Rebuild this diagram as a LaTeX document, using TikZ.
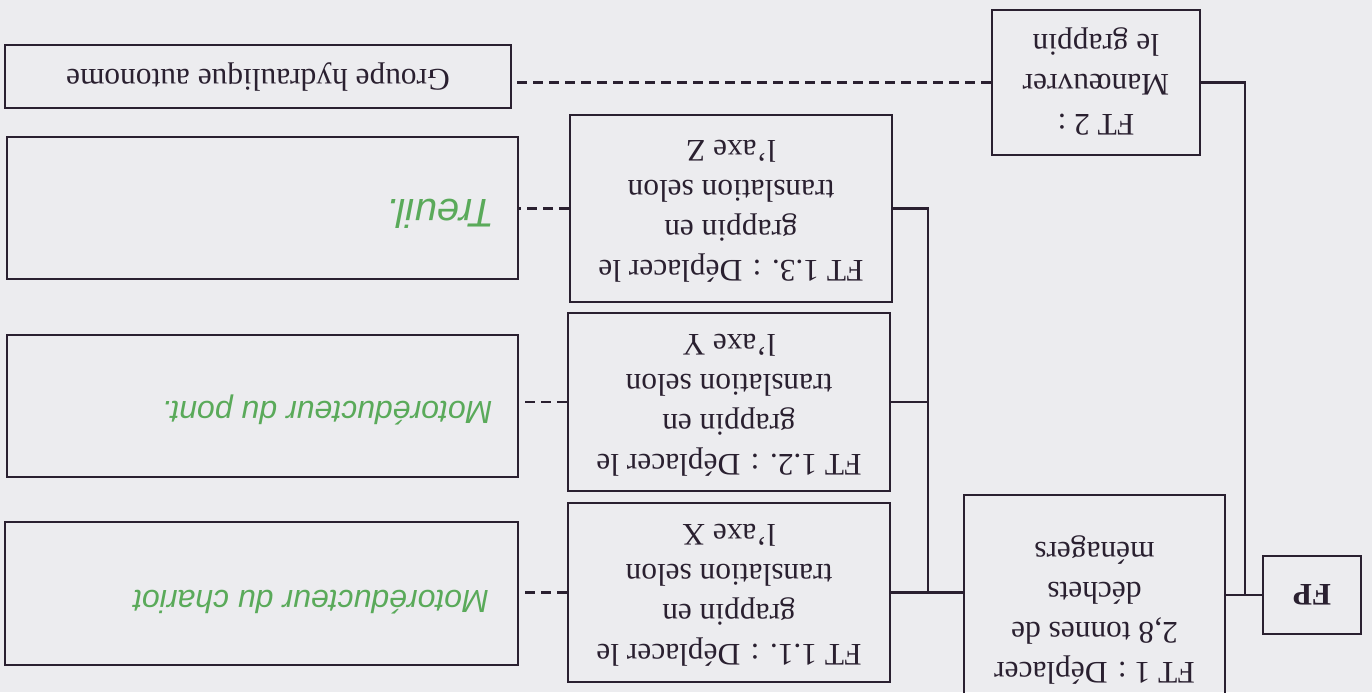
\documentclass[tikz,border=0pt]{standalone}
\usepackage{fontspec}
\setmainfont{Liberation Serif}
\newfontfamily\handfont{Liberation Sans}
\usepackage{graphicx}
\newcommand{\flipped}[1]{\rotatebox[origin=c]{180}{\begin{tabular}{@{}c@{}}#1\end{tabular}}}
\definecolor{ink}{HTML}{2A2030}
\definecolor{paper}{HTML}{ECECEF}
\definecolor{handgreen}{HTML}{5AAA5A}
\begin{document}
\begin{tikzpicture}[x=0.5pt,y=-0.5pt,
  box/.style={draw=ink,line width=1.3pt,inner sep=0pt,font=\fontsize{15.7}{20}\selectfont,text=ink},
  link/.style={draw=ink,line width=1.3pt},
  dlink/.style={link,dash pattern=on 5pt off 3pt},
  hand/.style={text=handgreen,inner sep=0pt,font=\handfont\itshape\fontsize{16}{18}\selectfont}]
\useasboundingbox (0,0) rectangle (1372,692);
\clip (0,0) rectangle (1372,692);
\fill[paper] (0,0) rectangle (1372,692);

% function boxes
\node[box,minimum width=49pt,minimum height=39pt] (FP) at (1312,595) {\rotatebox[origin=c]{180}{\bfseries FP}};
\node[box,minimum width=130.5pt,minimum height=115pt] (FT1) at (1094.5,610) {\flipped{FT 1 : Déplacer\\2,8 tonnes de\\déchets\\ménagers}};
\node[box,minimum width=104pt,minimum height=72.5pt] (FT2) at (1096,82.5) {\flipped{FT 2 :\\Manœuvrer\\le grappin}};
\node[box,minimum width=161pt,minimum height=89.5pt] (FT11) at (729,592.5) {\flipped{FT 1.1. : Déplacer le\\grappin en\\translation selon\\l’axe X}};
\node[box,minimum width=161pt,minimum height=89pt] (FT12) at (729,402) {\flipped{FT 1.2. : Déplacer le\\grappin en\\translation selon\\l’axe Y}};
\node[box,minimum width=161pt,minimum height=93.5pt] (FT13) at (731,208.5) {\flipped{FT 1.3. : Déplacer le\\grappin en\\translation selon\\l’axe Z}};

% solution boxes
\node[box,minimum width=256.5pt,minimum height=71.5pt] (L1) at (261.5,593.5) {};
\node[box,minimum width=255.5pt,minimum height=71pt] (L2) at (262.5,406) {};
\node[box,minimum width=255.5pt,minimum height=71pt] (L3) at (262.5,208) {};
\node[box,minimum width=253pt,minimum height=31.5pt] (G) at (258,76.5) {\rotatebox[origin=c]{180}{Groupe hydraulique autonome}};

% handwritten answers
\node[hand] (H1) at (311,602) {\rotatebox[origin=c]{180}{Motoréducteur du chariot}};
\node[hand] (H2) at (327,410) {\rotatebox[origin=c]{180}{Motoréducteur du pont.}};
\node[hand,font=\handfont\itshape\fontsize{20}{22}\selectfont] (H3) at (440,214) {\rotatebox[origin=c]{180}{Treuil.}};

% junctions
\coordinate (J1) at (1245,595);
\coordinate (J2) at (928,592.5);

% solid connectors
\draw[link] (FP.west) -- (FP.west -| FT1.east);
\draw[link] (FT2.east) -| (J1);
\draw[link] (FT11.east) -- (FT11.east -| FT1.west);
\draw[link] (FT13.east) -| (J2);
\draw[link] (FT12.east) -- (FT12.east -| J2);

% dashed connectors
\draw[dlink] (FT2.west) -- (FT2.west -| G.east);
\draw[dlink] (FT11.west) -- (FT11.west -| L1.east);
\draw[dlink] (FT12.west) -- (FT12.west -| L2.east);
\draw[dlink] (FT13.west) -- (FT13.west -| L3.east);
\end{tikzpicture}
\end{document}
